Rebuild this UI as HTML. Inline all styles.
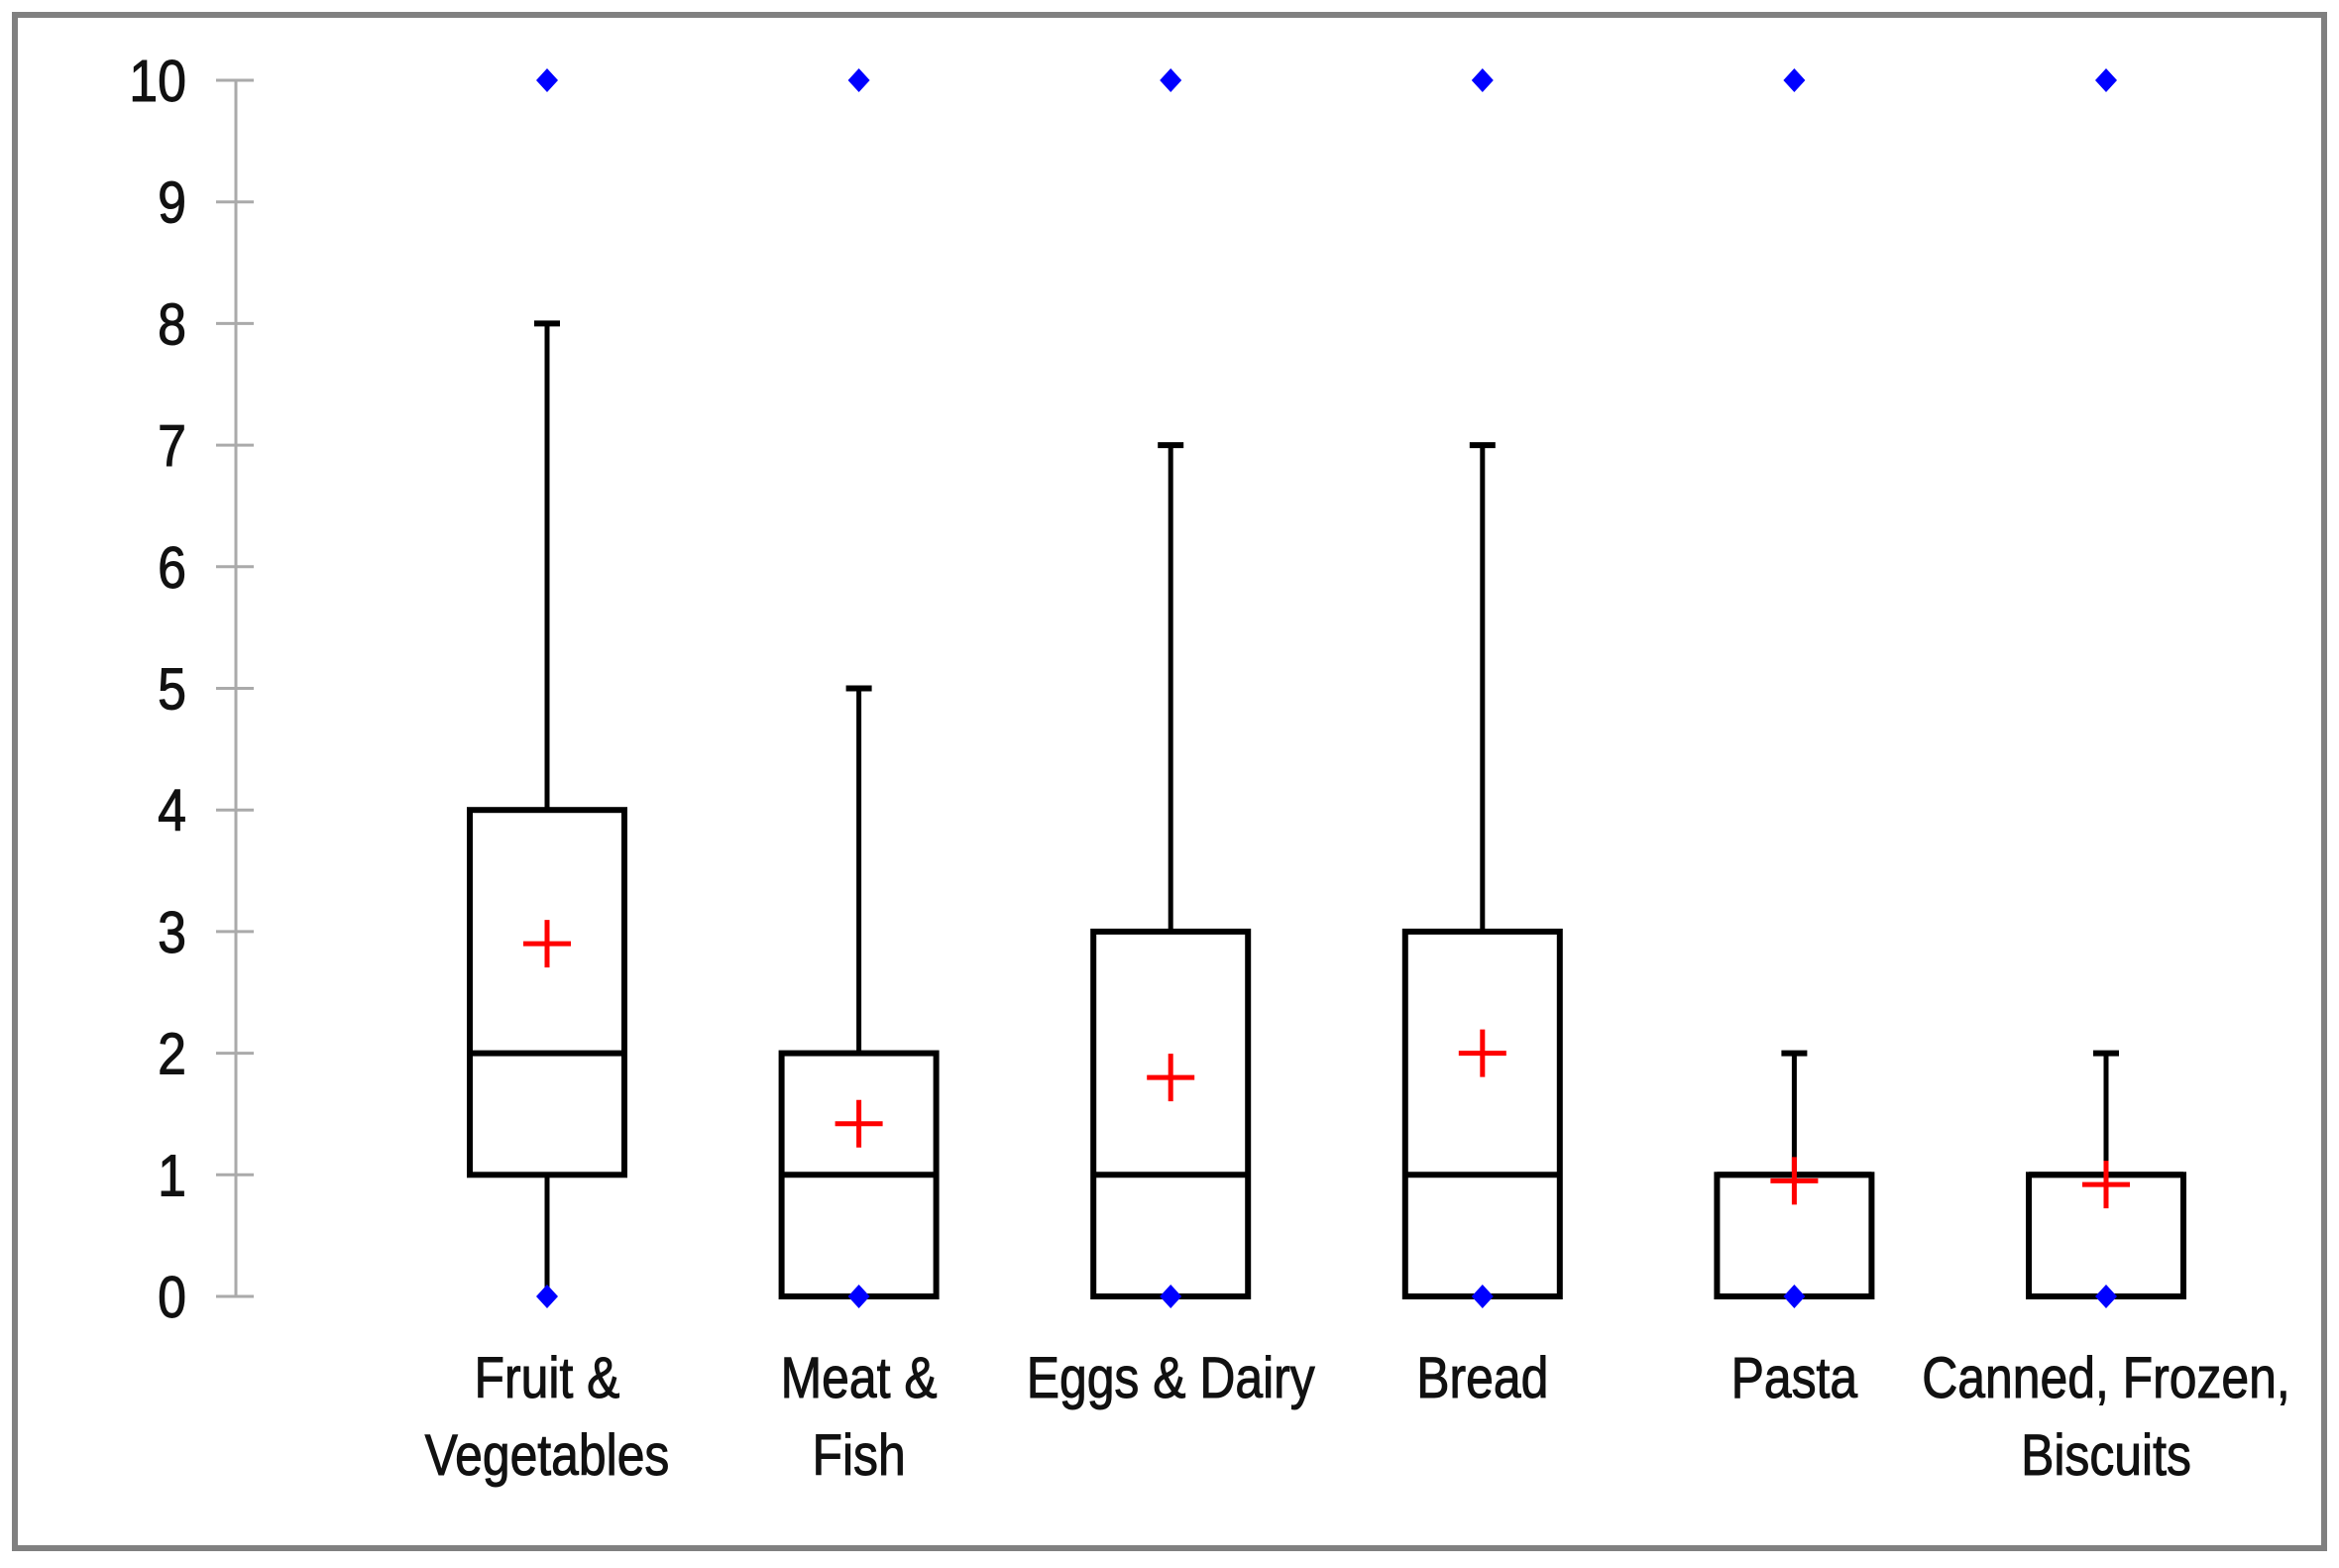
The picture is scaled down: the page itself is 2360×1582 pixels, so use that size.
<!DOCTYPE html>
<html><head><meta charset="utf-8"><style>
html,body{margin:0;padding:0;background:#fff;}
svg{display:block;font-family:"Liberation Sans",Arial,sans-serif;}
</style></head><body>
<svg id="chart" width="2360" height="1582" viewBox="0 0 2360 1582" xmlns="http://www.w3.org/2000/svg">
<rect x="15" y="15" width="2330" height="1547" fill="#fff" stroke="#808080" stroke-width="6"/>
<g id="axis"></g>
<g id="plot"></g>
</svg>
<script>
const categories = [["Fruit &","Vegetables"],["Meat &","Fish"],["Eggs & Dairy"],["Bread"],["Pasta"],["Canned, Frozen,","Biscuits"]];
const mins = [0,0,0,0,0,0];
const q1s = [1,0,0,0,0,0];
const medians = [2,1,1,1,1,1];
const q3s = [4,2,3,3,1,1];
const whiskerMax = [8,5,7,7,2,2];
const means = [2.9,1.42,1.8,2.0,0.95,0.92];
const maxPoints = [10,10,10,10,10,10];
const minPoints = [0,0,0,0,0,0];
const yTicks = [0,1,2,3,4,5,6,7,8,9,10];

const NS="http://www.w3.org/2000/svg";
const y0=1308, y10=81;
function yScale(v){return y0+(y10-y0)*v/10;}
function xScale(i){return 552+i*314.6;}
function mk(tag,attrs,parent){const e=document.createElementNS(NS,tag);for(const k in attrs)e.setAttribute(k,attrs[k]);parent.appendChild(e);return e;}
const axis=document.getElementById('axis'), plot=document.getElementById('plot');

let al=mk('line',{x1:238,x2:238,y1:yScale(0),y2:yScale(10),stroke:'#aaa','stroke-width':3},axis);


yTicks.forEach(t=>{
  const y=yScale(t);
  const tk=mk('line',{x1:218,x2:256,y1:y,y2:y,stroke:'#aaa','stroke-width':3},axis);
  
  
  const tx=mk('text',{x:188,y:y+21,'text-anchor':'end','font-size':59,fill:'#111',stroke:'#111','stroke-width':1,transform:`translate(188 0) scale(0.88 1) translate(-188 0)`},axis);
  tx.textContent=t;
  
  
});

const hw=78, cap=13;
categories.forEach((c,i)=>{
  const x=xScale(i);
  const g=mk('g',{},plot);
  
  
  mk('line',{x1:x,x2:x,y1:yScale(q3s[i]),y2:yScale(whiskerMax[i]),stroke:'#000','stroke-width':5},g);
  mk('line',{x1:x-cap,x2:x+cap,y1:yScale(whiskerMax[i]),y2:yScale(whiskerMax[i]),stroke:'#000','stroke-width':6},g);
  if(q1s[i]>mins[i]){
    mk('line',{x1:x,x2:x,y1:yScale(mins[i]),y2:yScale(q1s[i]),stroke:'#000','stroke-width':5},g);
  }
  mk('rect',{x:x-hw,y:yScale(q3s[i]),width:2*hw,height:yScale(q1s[i])-yScale(q3s[i]),fill:'none',stroke:'#000','stroke-width':6},g);
  mk('line',{x1:x-hw,x2:x+hw,y1:yScale(medians[i]),y2:yScale(medians[i]),stroke:'#000','stroke-width':6},g);
  const ym=yScale(means[i]);
  const m=mk('path',{d:`M${x-24} ${ym}H${x+24}M${x} ${ym-24}V${ym+24}`,stroke:'#f00','stroke-width':5,fill:'none'},g);
  
  
  [maxPoints[i],minPoints[i]].forEach(v=>{
    const yy=yScale(v);
    const d=mk('path',{d:`M${x} ${yy-12}L${x+11} ${yy}L${x} ${yy+12}L${x-11} ${yy}Z`,fill:'#00f'},g);
    
    
  });
  c.forEach((line,j)=>{
    const t=mk('text',{x:x,y:1410+j*78,'text-anchor':'middle','font-size':58,fill:'#111',stroke:'#111','stroke-width':1,transform:`translate(${x} 0) scale(0.86 1) translate(${-x} 0)`},g);
    t.textContent=line;
    
    
  });
});
</script>
</body></html>
